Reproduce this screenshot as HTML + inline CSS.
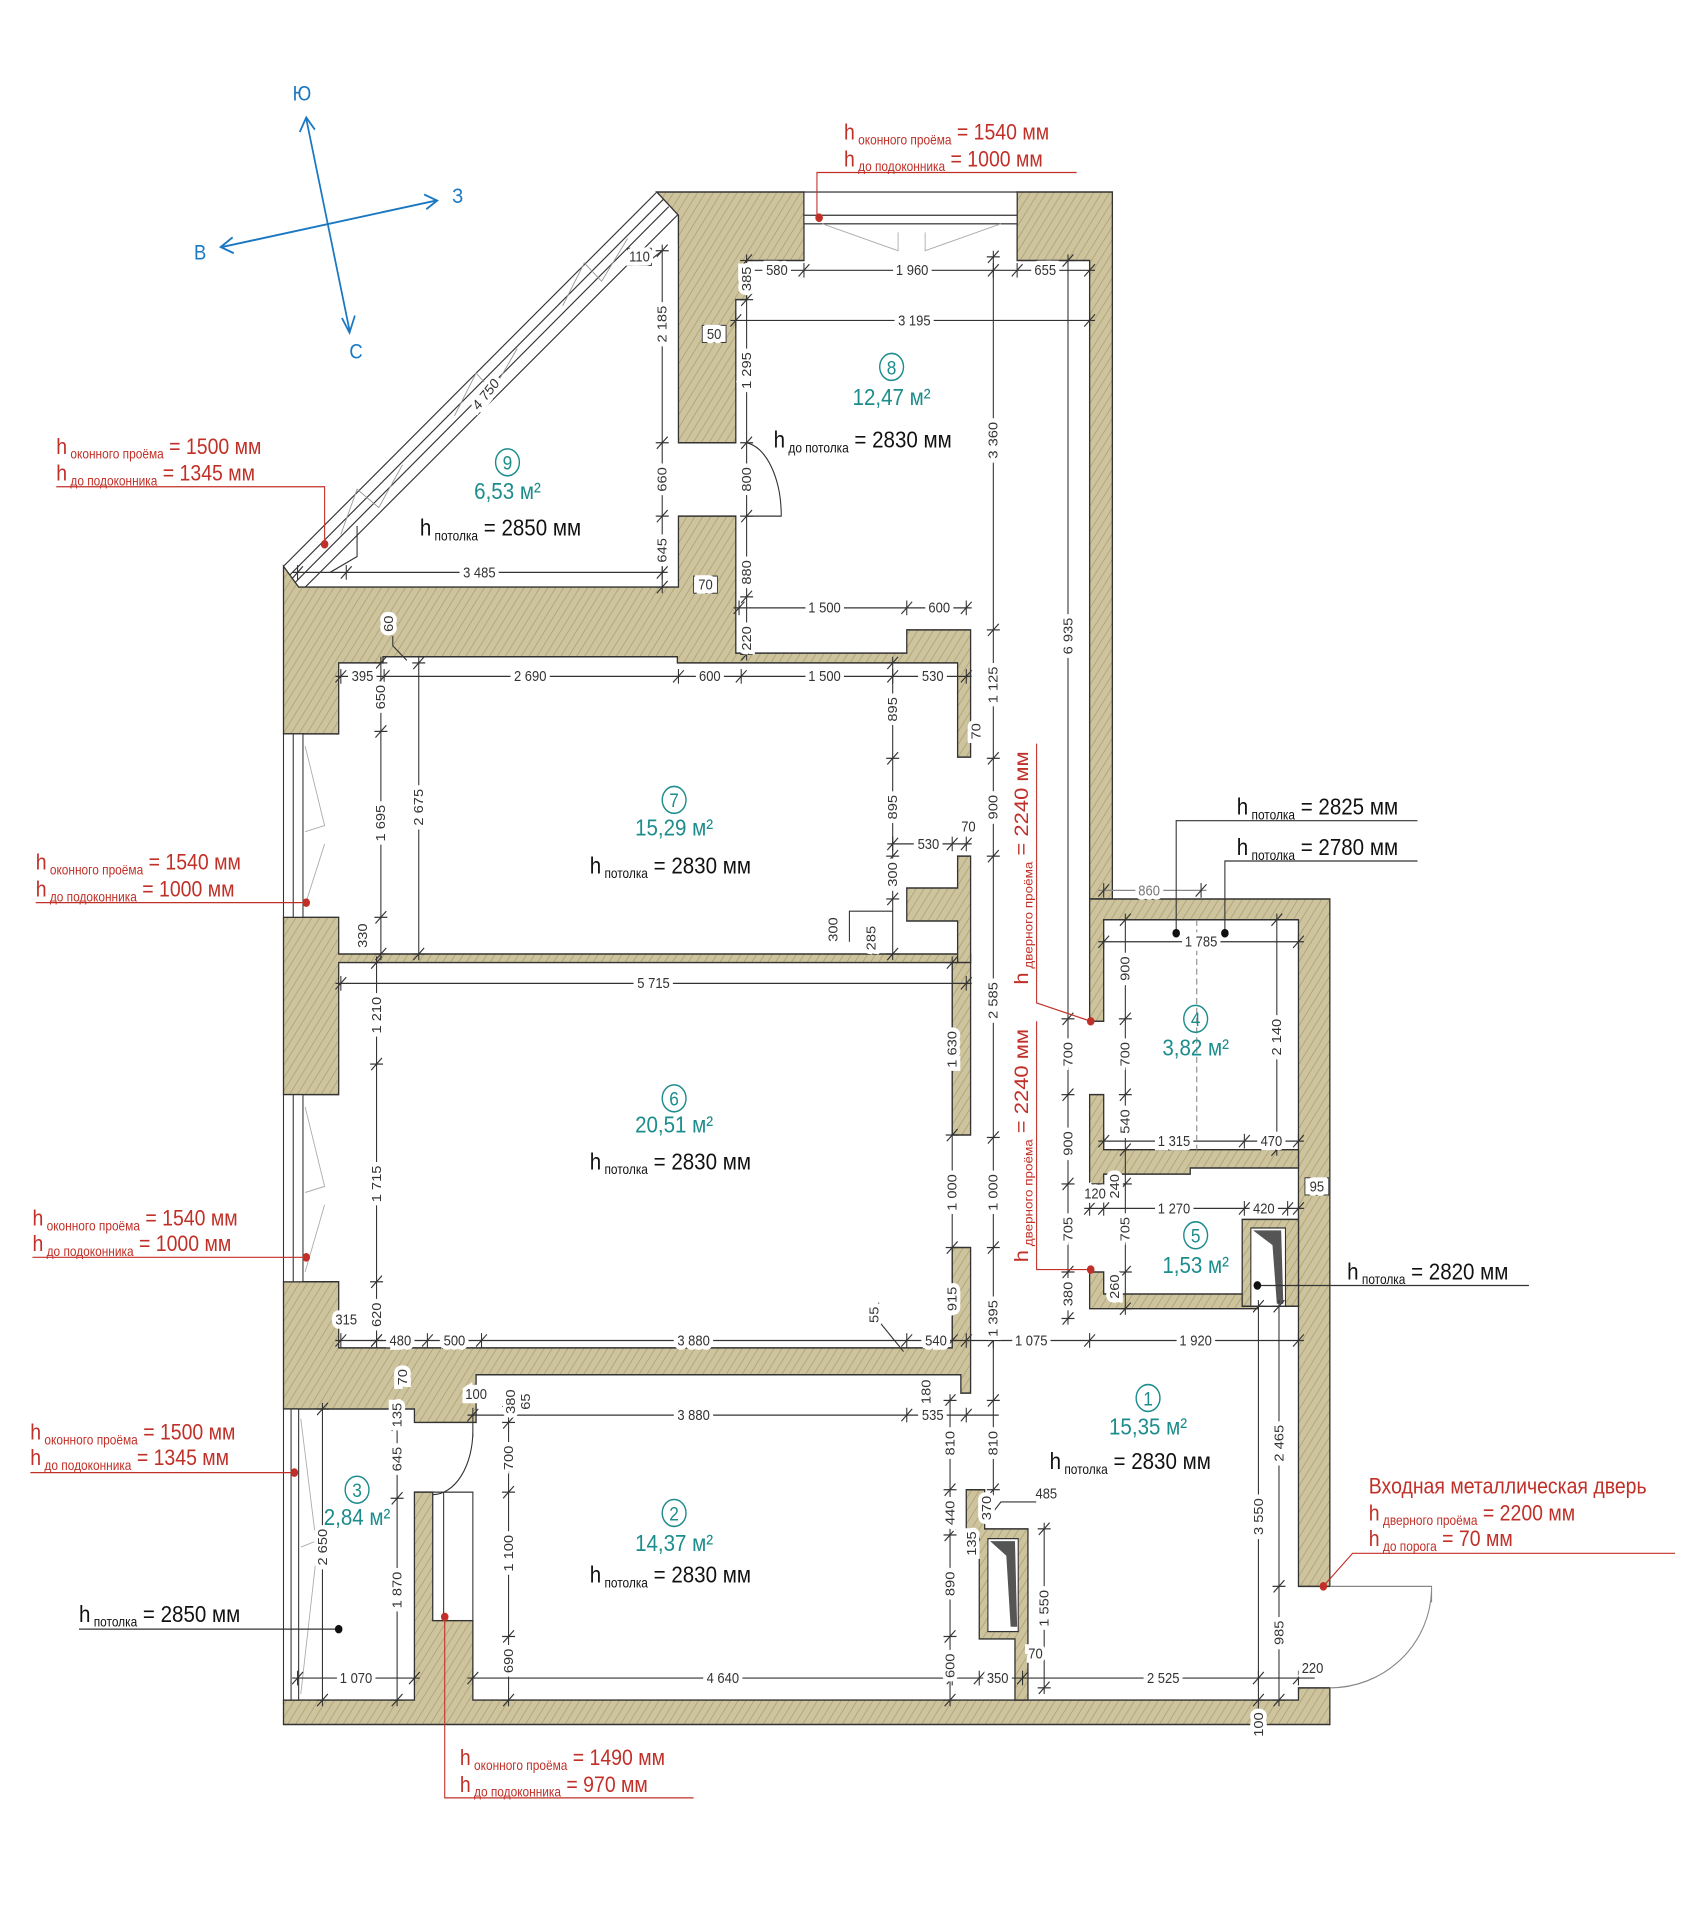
<!DOCTYPE html>
<html><head><meta charset="utf-8"><style>
html,body{margin:0;padding:0;background:#fff;}
svg{display:block;}
text{font-family:"Liberation Sans Narrow","Liberation Sans",sans-serif;}
.d{font-size:12px;fill:#333;stroke:#fff;stroke-width:7px;paint-order:stroke;text-anchor:middle;}
.dl{stroke:#333;stroke-width:1;fill:none;}
.w{fill:url(#hat);stroke:#333;stroke-width:1.2;}
.t{fill:#1d8c8c;text-anchor:middle;font-size:19px;}
.b{fill:#111;font-size:19px;}
.r{fill:#c03028;font-size:18px;}
.s{font-size:11px;}
.tn{stroke:#333;stroke-width:1;}
.rc{fill:none;stroke:#1d8c8c;stroke-width:1.3;}
</style></head><body>
<svg width="1688" height="1908" viewBox="0 0 1560 1560" preserveAspectRatio="none" xmlns="http://www.w3.org/2000/svg">
<defs>
<pattern id="hat" patternUnits="userSpaceOnUse" width="6" height="6" patternTransform="rotate(35)">
<rect width="6" height="6" fill="#cdc39c"/><line x1="0" y1="0" x2="0" y2="6" stroke="#a99d73" stroke-width="1.3"/>
</pattern>
<g id="th"><line x1="-5" y1="5" x2="5" y2="-5" class="tn"/><line x1="0" y1="-6" x2="0" y2="6" class="tn"/></g>
<g id="tv"><line x1="-5" y1="5" x2="5" y2="-5" class="tn"/><line x1="-6" y1="0" x2="6" y2="0" class="tn"/></g>
</defs>

<!-- compass -->
<g stroke="#1a78c2" stroke-width="1.6" fill="none">
<line x1="283" y1="97" x2="323" y2="270"/><polyline points="277,108 283,96 291,106"/><polyline points="316,260 323,272 328,258"/>
<line x1="205" y1="202" x2="403" y2="164"/><polyline points="215,194 204,202 216,207"/><polyline points="392,159 404,164 394,171"/>
</g>
<g fill="#1a78c2" font-size="17" text-anchor="middle">
<text x="279" y="82">Ю</text><text x="423" y="166">З</text><text x="185" y="212">В</text><text x="329" y="293">С</text>
</g>

<!-- diagonal glazing -->
<g stroke="#333" stroke-width="1" fill="none">
<line x1="262" y1="463" x2="607" y2="157"/>
<line x1="268" y1="470" x2="613" y2="163"/>
<line x1="273" y1="476" x2="618" y2="169"/>
<line x1="281" y1="481" x2="627" y2="175"/>
<line x1="627" y1="175" x2="627" y2="200"/>
</g>
<g stroke="#999" stroke-width="0.8" fill="none">
<polyline points="315,437 330,400 350,415 372,380"/><polyline points="420,340 440,305 455,320 478,285"/><polyline points="520,250 540,215 556,230 580,195"/>
</g>

<!-- walls -->
<polygon class="w" points="607,157 743,157 743,213 690,213 690,245 680,245 680,362 627,362 627,176"/>
<polygon class="w" points="940,157 1028,157 1028,735 1007,735 1007,213 940,213"/>
<polygon class="w" points="262,463 276,480 627,480 627,422 680,422 680,534 838,534 838,515 897,515 897,619 885,619 885,542 626,542 626,537 354,537 354,542 313,542 313,600 262,600"/>
<polygon class="w" points="262,750 313,750 313,780 897,780 897,787 313,787 313,895 262,895"/>
<polygon class="w" points="885,700 897,700 897,787 885,787 885,753 838,753 838,726 885,726"/>
<polygon class="w" points="880,787 897,787 897,928 880,928"/>
<polygon class="w" points="880,1020 897,1020 897,1139 888,1139 888,1124 446,1124 440,1124 440,1163 383,1163 383,1152 262,1152 262,1048 313,1048 313,1102 880,1102"/>
<polygon class="w" points="383,1220 400,1220 400,1325 437,1325 437,1390 1200,1390 1200,1380 1229,1380 1229,1410 262,1410 262,1390 383,1390"/>
<polygon class="w" points="1007,735 1229,735 1229,1297 1200,1297 1200,752 1020,752 1020,835 1007,835"/>
<polygon class="w" points="1007,1040 1020,1040 1020,1058 1163,1058 1163,1070 1007,1070"/>
<polygon class="w" points="1007,895 1020,895 1020,940 1200,940 1200,955 1100,955 1100,960 1020,960 1020,968 1007,968"/>
<polygon class="w" points="1148,997 1200,997 1200,1068 1148,1068"/>
<rect x="1156" y="1004" width="32" height="64" fill="#fff" stroke="#333"/>
<polygon points="1158,1006 1184,1006 1186,1066 1180,1066 1176,1018" fill="#555"/>
<polygon class="w" points="893,1218 910,1218 910,1250 950,1250 950,1390 938,1390 938,1340 905,1340 905,1255 893,1255"/>
<rect x="913" y="1258" width="28" height="76" fill="#fff" stroke="#333"/>
<polygon points="915,1260 938,1260 940,1330 934,1330 930,1272" fill="#555"/>

<!-- windows -->
<g stroke="#333" stroke-width="1" fill="#fff">
<rect x="743" y="157" width="197" height="26"/>
<line x1="743" y1="176" x2="940" y2="176"/>
<rect x="262" y="600" width="18" height="150"/><line x1="271" y1="600" x2="271" y2="750"/>
<rect x="262" y="895" width="18" height="153"/><line x1="271" y1="895" x2="271" y2="1048"/>
<rect x="262" y="1152" width="14" height="238"/><line x1="269" y1="1152" x2="269" y2="1390"/>
<rect x="400" y="1220" width="37" height="105"/><line x1="410" y1="1220" x2="410" y2="1325"/>
</g>
<g stroke="#aaa" stroke-width="0.8" fill="none">
<polyline points="760,183 830,205 830,190"/><polyline points="925,183 855,205 855,190"/>
<polyline points="282,610 300,675 282,680"/><polyline points="282,740 300,690"/>
<polyline points="282,905 300,970 282,975"/><polyline points="282,1040 300,985"/>
<polyline points="278,1160 292,1260 278,1265"/><polyline points="278,1385 292,1275"/>
</g>

<!-- doors -->
<g stroke="#333" stroke-width="1" fill="none">
<path d="M690,362 A36,60 0 0 1 722,422 L690,422"/>
<path d="M400,1163 L437,1163 L437,1175 M437,1170 A37,52 0 0 1 400,1222"/>
<path d="M1229,1297 L1323,1297 L1323,1310 M1323,1300 A94,82 0 0 1 1229,1380" stroke="#888"/>
</g>

<!-- dimension lines -->
<g class="dl">
<line x1="685" y1="221" x2="1012" y2="221"/><line x1="675" y1="262" x2="1012" y2="262"/>
<line x1="270" y1="468" x2="617" y2="468"/><line x1="678" y1="497" x2="898" y2="497"/>
<line x1="310" y1="553" x2="898" y2="553"/><line x1="820" y1="690" x2="898" y2="690"/>
<line x1="310" y1="804" x2="898" y2="804"/><line x1="310" y1="1096" x2="1205" y2="1096"/>
<line x1="432" y1="1157" x2="923" y2="1157"/><line x1="270" y1="1372" x2="388" y2="1372"/>
<line x1="432" y1="1372" x2="1215" y2="1372"/><line x1="1015" y1="728" x2="1115" y2="728" stroke="#888"/>
<line x1="1015" y1="770" x2="1205" y2="770"/><line x1="1015" y1="933" x2="1205" y2="933"/>
<line x1="1002" y1="988" x2="1205" y2="988"/>
<line x1="612" y1="200" x2="612" y2="485"/><line x1="690" y1="208" x2="690" y2="540"/>
<line x1="918" y1="205" x2="918" y2="1223"/><line x1="987" y1="208" x2="987" y2="1083"/>
<line x1="352" y1="537" x2="352" y2="785"/><line x1="387" y1="537" x2="387" y2="785"/>
<line x1="825" y1="537" x2="825" y2="785"/><line x1="348" y1="782" x2="348" y2="1101"/>
<line x1="880" y1="782" x2="880" y2="1101"/><line x1="1040" y1="747" x2="1040" y2="1075"/>
<line x1="1180" y1="747" x2="1180" y2="945"/><line x1="367" y1="1145" x2="367" y2="1395"/>
<line x1="298" y1="1147" x2="298" y2="1395"/><line x1="470" y1="1140" x2="470" y2="1395"/>
<line x1="878" y1="1140" x2="878" y2="1395"/><line x1="965" y1="1245" x2="965" y2="1385"/>
<line x1="1163" y1="1063" x2="1163" y2="1420"/><line x1="1182" y1="1063" x2="1182" y2="1395"/>
<line x1="1106" y1="752" x2="1106" y2="940" stroke="#888" stroke-dasharray="5,3"/>
<polyline points="602,212 612,205"/><polyline points="305,468 330,455 330,430"/>
<polyline points="363,520 363,528 376,540"/><polyline points="825,745 785,745 785,770"/>
<polyline points="835,1105 812,1080 812,1065"/><polyline points="910,1245 925,1228 965,1228"/>
</g>
<g id="ticks">
<use href="#th" x="690" y="221"/><use href="#th" x="743" y="221"/><use href="#th" x="918" y="221"/><use href="#th" x="940" y="221"/><use href="#th" x="1007" y="221"/>
<use href="#th" x="680" y="262"/><use href="#th" x="1007" y="262"/>
<use href="#th" x="275" y="468"/><use href="#th" x="320" y="468"/><use href="#th" x="612" y="468"/>
<use href="#th" x="683" y="497"/><use href="#th" x="838" y="497"/><use href="#th" x="893" y="497"/>
<use href="#th" x="315" y="553"/><use href="#th" x="355" y="553"/><use href="#th" x="627" y="553"/><use href="#th" x="685" y="553"/><use href="#th" x="825" y="553"/><use href="#th" x="893" y="553"/>
<use href="#th" x="825" y="690"/><use href="#th" x="880" y="690"/><use href="#th" x="893" y="690"/>
<use href="#th" x="315" y="804"/><use href="#th" x="893" y="804"/>
<use href="#th" x="315" y="1096"/><use href="#th" x="348" y="1096"/><use href="#th" x="395" y="1096"/><use href="#th" x="445" y="1096"/><use href="#th" x="838" y="1096"/><use href="#th" x="893" y="1096"/><use href="#th" x="918" y="1096"/><use href="#th" x="1007" y="1096"/><use href="#th" x="1200" y="1096"/>
<use href="#th" x="437" y="1157"/><use href="#th" x="838" y="1157"/><use href="#th" x="893" y="1157"/>
<use href="#th" x="275" y="1372"/><use href="#th" x="383" y="1372"/><use href="#th" x="437" y="1372"/><use href="#th" x="880" y="1372"/><use href="#th" x="905" y="1372"/><use href="#th" x="945" y="1372"/><use href="#th" x="1163" y="1372"/><use href="#th" x="1200" y="1372"/>
<use href="#th" x="1020" y="728"/><use href="#th" x="1110" y="728"/>
<use href="#th" x="1020" y="770"/><use href="#th" x="1200" y="770"/>
<use href="#th" x="1020" y="933"/><use href="#th" x="1150" y="933"/><use href="#th" x="1200" y="933"/>
<use href="#th" x="1007" y="988"/><use href="#th" x="1020" y="988"/><use href="#th" x="1150" y="988"/><use href="#th" x="1190" y="988"/><use href="#th" x="1200" y="988"/>
<use href="#tv" x="612" y="205"/><use href="#tv" x="612" y="362"/><use href="#tv" x="612" y="422"/><use href="#tv" x="612" y="480"/>
<use href="#tv" x="690" y="213"/><use href="#tv" x="690" y="245"/><use href="#tv" x="690" y="362"/><use href="#tv" x="690" y="422"/><use href="#tv" x="690" y="488"/><use href="#tv" x="690" y="535"/>
<use href="#tv" x="918" y="210"/><use href="#tv" x="918" y="515"/><use href="#tv" x="918" y="620"/><use href="#tv" x="918" y="700"/><use href="#tv" x="918" y="930"/><use href="#tv" x="918" y="1020"/><use href="#tv" x="918" y="1145"/><use href="#tv" x="918" y="1218"/>
<use href="#tv" x="987" y="213"/><use href="#tv" x="987" y="833"/><use href="#tv" x="987" y="895"/><use href="#tv" x="987" y="968"/><use href="#tv" x="987" y="1040"/><use href="#tv" x="987" y="1078"/>
<use href="#tv" x="352" y="542"/><use href="#tv" x="352" y="598"/><use href="#tv" x="352" y="750"/><use href="#tv" x="352" y="780"/>
<use href="#tv" x="387" y="542"/><use href="#tv" x="387" y="780"/>
<use href="#tv" x="825" y="542"/><use href="#tv" x="825" y="620"/><use href="#tv" x="825" y="700"/><use href="#tv" x="825" y="735"/><use href="#tv" x="825" y="780"/>
<use href="#tv" x="348" y="787"/><use href="#tv" x="348" y="870"/><use href="#tv" x="348" y="1048"/><use href="#tv" x="348" y="1096"/>
<use href="#tv" x="880" y="787"/><use href="#tv" x="880" y="928"/><use href="#tv" x="880" y="1020"/><use href="#tv" x="880" y="1096"/>
<use href="#tv" x="1040" y="752"/><use href="#tv" x="1040" y="833"/><use href="#tv" x="1040" y="895"/><use href="#tv" x="1040" y="940"/><use href="#tv" x="1040" y="968"/><use href="#tv" x="1040" y="1040"/><use href="#tv" x="1040" y="1070"/>
<use href="#tv" x="1180" y="752"/><use href="#tv" x="1180" y="940"/>
<use href="#tv" x="367" y="1150"/><use href="#tv" x="367" y="1165"/><use href="#tv" x="367" y="1225"/><use href="#tv" x="367" y="1390"/>
<use href="#tv" x="298" y="1152"/><use href="#tv" x="298" y="1390"/>
<use href="#tv" x="470" y="1150"/><use href="#tv" x="470" y="1163"/><use href="#tv" x="470" y="1220"/><use href="#tv" x="470" y="1338"/><use href="#tv" x="470" y="1390"/>
<use href="#tv" x="878" y="1145"/><use href="#tv" x="878" y="1218"/><use href="#tv" x="878" y="1255"/><use href="#tv" x="878" y="1338"/><use href="#tv" x="878" y="1390"/>
<use href="#tv" x="965" y="1250"/><use href="#tv" x="965" y="1380"/>
<use href="#tv" x="1163" y="1068"/><use href="#tv" x="1163" y="1390"/>
<use href="#tv" x="1182" y="1068"/><use href="#tv" x="1182" y="1297"/><use href="#tv" x="1182" y="1390"/>
</g>

<!-- horizontal dim text -->
<g>
<text class="d" x="718" y="225">580</text><text class="d" x="843" y="225">1 960</text><text class="d" x="966" y="225">655</text>
<text class="d" x="845" y="266">3 195</text><text class="d" x="443" y="472">3 485</text>
<text class="d" x="762" y="501">1 500</text><text class="d" x="868" y="501">600</text>
<text class="d" x="335" y="557">395</text><text class="d" x="490" y="557">2 690</text><text class="d" x="656" y="557">600</text><text class="d" x="762" y="557">1 500</text><text class="d" x="862" y="557">530</text>
<text class="d" x="858" y="694">530</text><text class="d" x="895" y="680">70</text>
<text class="d" x="604" y="808">5 715</text>
<text class="d" x="370" y="1100">480</text><text class="d" x="420" y="1100">500</text><text class="d" x="641" y="1100">3 880</text><text class="d" x="865" y="1100">540</text><text class="d" x="953" y="1100">1 075</text><text class="d" x="1105" y="1100">1 920</text>
<text class="d" x="641" y="1161">3 880</text><text class="d" x="862" y="1161">535</text>
<text class="d" x="329" y="1376">1 070</text><text class="d" x="668" y="1376">4 640</text><text class="d" x="922" y="1376">350</text><text class="d" x="1075" y="1376">2 525</text>
<text class="d" x="1213" y="1368">220</text><text class="d" x="957" y="1356">70</text><text class="d" x="967" y="1225">485</text>
<text class="d" x="1062" y="732" style="fill:#777">860</text><text class="d" x="1110" y="774">1 785</text>
<text class="d" x="1085" y="937">1 315</text><text class="d" x="1175" y="937">470</text>
<text class="d" x="1085" y="992">1 270</text><text class="d" x="1168" y="992">420</text><text class="d" x="1012" y="980">120</text>
<text class="d" x="320" y="1083">315</text><text class="d" x="440" y="1144">100</text>
</g>
<g fill="#fff" stroke="#333" stroke-width="0.8">
<rect x="580" y="203" width="22" height="14"/><rect x="649" y="266" width="22" height="14"/><rect x="641" y="471" width="22" height="14"/><rect x="1206" y="963" width="22" height="14"/>
</g>
<g class="d"><text x="591" y="214">110</text><text x="660" y="277">50</text><text x="652" y="482">70</text><text x="1217" y="974">95</text></g>

<!-- vertical dim text -->
<g class="d">
<text transform="translate(616,265) rotate(-90)">2 185</text><text transform="translate(616,392) rotate(-90)">660</text><text transform="translate(616,450) rotate(-90)">645</text>
<text transform="translate(694,228) rotate(-90)">385</text><text transform="translate(694,303) rotate(-90)">1 295</text><text transform="translate(694,392) rotate(-90)">800</text><text transform="translate(694,468) rotate(-90)">880</text><text transform="translate(694,522) rotate(-90)">220</text>
<text transform="translate(922,360) rotate(-90)">3 360</text><text transform="translate(922,560) rotate(-90)">1 125</text><text transform="translate(922,660) rotate(-90)">900</text><text transform="translate(922,818) rotate(-90)">2 585</text><text transform="translate(922,975) rotate(-90)">1 000</text><text transform="translate(922,1078) rotate(-90)">1 395</text><text transform="translate(922,1180) rotate(-90)">810</text><text transform="translate(916,1233) rotate(-90)">370</text>
<text transform="translate(991,520) rotate(-90)">6 935</text><text transform="translate(991,862) rotate(-90)">700</text><text transform="translate(991,935) rotate(-90)">900</text><text transform="translate(991,1005) rotate(-90)">705</text><text transform="translate(991,1058) rotate(-90)">380</text>
<text transform="translate(356,570) rotate(-90)">650</text><text transform="translate(356,673) rotate(-90)">1 695</text><text transform="translate(339,765) rotate(-90)">330</text>
<text transform="translate(391,660) rotate(-90)">2 675</text>
<text transform="translate(829,580) rotate(-90)">895</text><text transform="translate(829,660) rotate(-90)">895</text><text transform="translate(829,715) rotate(-90)">300</text><text transform="translate(809,767) rotate(-90)">285</text><text transform="translate(774,760) rotate(-90)">300</text>
<text transform="translate(363,510) rotate(-90)">60</text><text transform="translate(906,598) rotate(-90)">70</text>
<text transform="translate(352,830) rotate(-90)">1 210</text><text transform="translate(352,968) rotate(-90)">1 715</text><text transform="translate(352,1075) rotate(-90)">620</text>
<text transform="translate(884,858) rotate(-90)">1 630</text><text transform="translate(884,975) rotate(-90)">1 000</text><text transform="translate(884,1062) rotate(-90)">915</text>
<text transform="translate(812,1075) rotate(-90)">55</text><text transform="translate(376,1126) rotate(-90)">70</text>
<text transform="translate(476,1146) rotate(-90)">380</text><text transform="translate(490,1146) rotate(-90)">65</text><text transform="translate(860,1138) rotate(-90)">180</text>
<text transform="translate(1044,792) rotate(-90)">900</text><text transform="translate(1044,862) rotate(-90)">700</text><text transform="translate(1044,917) rotate(-90)">540</text><text transform="translate(1034,970) rotate(-90)">240</text><text transform="translate(1044,1005) rotate(-90)">705</text><text transform="translate(1034,1052) rotate(-90)">260</text>
<text transform="translate(1184,848) rotate(-90)">2 140</text>
<text transform="translate(371,1157) rotate(-90)">135</text><text transform="translate(371,1193) rotate(-90)">645</text><text transform="translate(371,1300) rotate(-90)">1 870</text>
<text transform="translate(302,1265) rotate(-90)">2 650</text>
<text transform="translate(474,1192) rotate(-90)">700</text><text transform="translate(474,1270) rotate(-90)">1 100</text><text transform="translate(474,1358) rotate(-90)">690</text>
<text transform="translate(882,1180) rotate(-90)">810</text><text transform="translate(882,1237) rotate(-90)">440</text><text transform="translate(882,1295) rotate(-90)">890</text><text transform="translate(882,1362) rotate(-90)">600</text>
<text transform="translate(902,1262) rotate(-90)">135</text>
<text transform="translate(969,1315) rotate(-90)">1 550</text>
<text transform="translate(1167,1240) rotate(-90)">3 550</text><text transform="translate(1186,1180) rotate(-90)">2 465</text><text transform="translate(1186,1335) rotate(-90)">985</text><text transform="translate(1167,1410) rotate(-90)">100</text>
</g>

<!-- room labels -->
<g>
<circle class="rc" cx="824" cy="300" r="11"/><circle class="rc" cx="469" cy="378" r="11"/><circle class="rc" cx="623" cy="654" r="11"/><circle class="rc" cx="623" cy="898" r="11"/><circle class="rc" cx="623" cy="1237" r="11"/><circle class="rc" cx="1061" cy="1143" r="11"/><circle class="rc" cx="330" cy="1218" r="11"/><circle class="rc" cx="1105" cy="833" r="11"/><circle class="rc" cx="1105" cy="1010" r="11"/>
</g>
<g class="t">
<text x="824" y="306" font-size="16">8</text><text x="824" y="331">12,47 м²</text>
<text x="469" y="384" font-size="16">9</text><text x="469" y="408">6,53 м²</text>
<text x="623" y="660" font-size="16">7</text><text x="623" y="683">15,29 м²</text>
<text x="623" y="904" font-size="16">6</text><text x="623" y="926">20,51 м²</text>
<text x="623" y="1243" font-size="16">2</text><text x="623" y="1268">14,37 м²</text>
<text x="1061" y="1149" font-size="16">1</text><text x="1061" y="1173">15,35 м²</text>
<text x="330" y="1224" font-size="16">3</text><text x="330" y="1247">2,84 м²</text>
<text x="1105" y="839" font-size="16">4</text><text x="1105" y="863">3,82 м²</text>
<text x="1105" y="1016" font-size="16">5</text><text x="1105" y="1041">1,53 м²</text>
</g>
<g class="b">
<text x="715" y="366">h<tspan class="s" dy="4"> до потолка</tspan><tspan dy="-4"> = 2830 мм</tspan></text>
<text x="388" y="438">h<tspan class="s" dy="4"> потолка</tspan><tspan dy="-4"> = 2850 мм</tspan></text>
<text x="545" y="714">h<tspan class="s" dy="4"> потолка</tspan><tspan dy="-4"> = 2830 мм</tspan></text>
<text x="545" y="956">h<tspan class="s" dy="4"> потолка</tspan><tspan dy="-4"> = 2830 мм</tspan></text>
<text x="545" y="1294">h<tspan class="s" dy="4"> потолка</tspan><tspan dy="-4"> = 2830 мм</tspan></text>
<text x="970" y="1201">h<tspan class="s" dy="4"> потолка</tspan><tspan dy="-4"> = 2830 мм</tspan></text>
<text x="1143" y="666">h<tspan class="s" dy="4"> потолка</tspan><tspan dy="-4"> = 2825 мм</tspan></text>
<text x="1143" y="699">h<tspan class="s" dy="4"> потолка</tspan><tspan dy="-4"> = 2780 мм</tspan></text>
<text x="1245" y="1046">h<tspan class="s" dy="4"> потолка</tspan><tspan dy="-4"> = 2820 мм</tspan></text>
<text x="73" y="1326">h<tspan class="s" dy="4"> потолка</tspan><tspan dy="-4"> = 2850 мм</tspan></text>
</g>
<g stroke="#333" stroke-width="1" fill="none">
<polyline points="1310,671 1087,671 1087,763"/><polyline points="1310,704 1132,704 1132,763"/>
<polyline points="1413,1051 1162,1051"/><polyline points="73,1332 313,1332"/>
</g>
<g fill="#111"><circle cx="1087" cy="763" r="3.5"/><circle cx="1132" cy="763" r="3.5"/><circle cx="1162" cy="1051" r="3.5"/><circle cx="313" cy="1332" r="3.5"/></g>

<!-- red annotations -->
<g class="r">
<text x="780" y="114">h<tspan class="s" dy="4"> оконного проёма</tspan><tspan dy="-4"> = 1540 мм</tspan></text>
<text x="780" y="136">h<tspan class="s" dy="4"> до подоконника</tspan><tspan dy="-4"> = 1000 мм</tspan></text>
<text x="52" y="371">h<tspan class="s" dy="4"> оконного проёма</tspan><tspan dy="-4"> = 1500 мм</tspan></text>
<text x="52" y="393">h<tspan class="s" dy="4"> до подоконника</tspan><tspan dy="-4"> = 1345 мм</tspan></text>
<text x="33" y="711">h<tspan class="s" dy="4"> оконного проёма</tspan><tspan dy="-4"> = 1540 мм</tspan></text>
<text x="33" y="733">h<tspan class="s" dy="4"> до подоконника</tspan><tspan dy="-4"> = 1000 мм</tspan></text>
<text x="30" y="1002">h<tspan class="s" dy="4"> оконного проёма</tspan><tspan dy="-4"> = 1540 мм</tspan></text>
<text x="30" y="1023">h<tspan class="s" dy="4"> до подоконника</tspan><tspan dy="-4"> = 1000 мм</tspan></text>
<text x="28" y="1177">h<tspan class="s" dy="4"> оконного проёма</tspan><tspan dy="-4"> = 1500 мм</tspan></text>
<text x="28" y="1198">h<tspan class="s" dy="4"> до подоконника</tspan><tspan dy="-4"> = 1345 мм</tspan></text>
<text x="425" y="1443">h<tspan class="s" dy="4"> оконного проёма</tspan><tspan dy="-4"> = 1490 мм</tspan></text>
<text x="425" y="1465">h<tspan class="s" dy="4"> до подоконника</tspan><tspan dy="-4"> = 970 мм</tspan></text>
<text x="1265" y="1221">Входная металлическая дверь</text>
<text x="1265" y="1243">h<tspan class="s" dy="4"> дверного проёма</tspan><tspan dy="-4"> = 2200 мм</tspan></text>
<text x="1265" y="1264">h<tspan class="s" dy="4"> до порога</tspan><tspan dy="-4"> = 70 мм</tspan></text>
<text transform="translate(950,805) rotate(-90)">h<tspan class="s" dy="4"> дверного проёма</tspan><tspan dy="-4"> = 2240 мм</tspan></text>
<text transform="translate(950,1032) rotate(-90)">h<tspan class="s" dy="4"> дверного проёма</tspan><tspan dy="-4"> = 2240 мм</tspan></text>
</g>
<g stroke="#c03028" stroke-width="1" fill="none">
<polyline points="995,141 755,141 755,178"/>
<polyline points="52,398 300,398 300,445"/>
<polyline points="33,738 283,738"/><polyline points="30,1028 283,1028"/>
<polyline points="28,1204 272,1204"/>
<polyline points="641,1470 411,1470 411,1322"/>
<polyline points="1548,1270 1250,1270 1223,1297"/>
<polyline points="958,608 958,820 1008,835"/>
<polyline points="958,835 958,1038 1008,1038"/>
</g>
<g fill="#c03028"><circle cx="757" cy="178" r="3.5"/><circle cx="300" cy="445" r="3.5"/><circle cx="283" cy="738" r="3.5"/><circle cx="283" cy="1028" r="3.5"/><circle cx="272" cy="1204" r="3.5"/><circle cx="411" cy="1322" r="3.5"/><circle cx="1223" cy="1297" r="3.5"/><circle cx="1008" cy="835" r="3.5"/><circle cx="1008" cy="1038" r="3.5"/></g>

<text class="d" transform="translate(452,325) rotate(-48)">4 750</text>
</svg>
</body></html>
